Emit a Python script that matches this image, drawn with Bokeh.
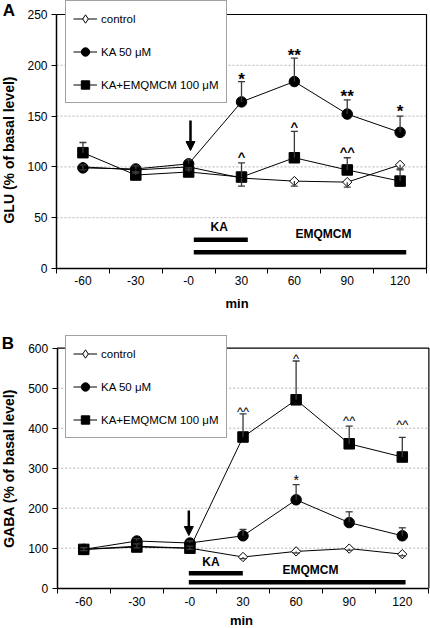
from bokeh.plotting import figure
from bokeh.models import (Range1d, FixedTicker, ColumnDataSource, Whisker, TeeHead,
                          Legend, LegendItem, Label, Arrow, NormalHead)
from bokeh.layouts import column
from bokeh.core.properties import value
from bokeh.embed import file_html
from bokeh.resources import INLINE

FONT = "Liberation Sans"

# ---------------- data ----------------
time_labels = ["-60", "-30", "-0", "30", "60", "90", "120"]
series_names = ["control", "KA 50 \u03bcM", "KA+EMQMCM 100 \u03bcM"]

glu_control = [100, 97, 100, 89, 86, 85, 102]
glu_control_err = [3, 3, 3, 8, 5, 5, 4]
glu_ka = [99, 98, 103, 164, 184, 152, 134]
glu_ka_err = [3, 3, 4, 20, 23, 14, 16]
glu_kae = [114, 92, 95, 90, 109, 97, 86]
glu_kae_err = [10, 3, 4, 14, 26, 12, 11]
glu_ka_sig = ["", "", "", "*", "**", "**", "*"]
glu_kae_sig = ["", "", "", "^", "^", "^^", ""]

gaba_control = [97, 105, 100, 78, 92, 99, 85]
gaba_control_err = [3, 4, 3, 4, 4, 4, 4]
gaba_ka = [97, 118, 113, 131, 221, 164, 131]
gaba_ka_err = [4, 6, 5, 16, 38, 27, 20]
gaba_kae = [97, 103, 100, 378, 471, 361, 328]
gaba_kae_err = [5, 8, 5, 58, 97, 44, 49]
gaba_ka_sig = ["", "", "", "", "*", "", ""]
gaba_kae_sig = ["", "", "", "^^", "^", "^^", "^^"]

# ---------------- style (pixel lifts of significance marks) ----------------
glu_ka_lift = [0, 0, 0, 5.7, 6.6, 7.4, 8.4]
glu_kae_lift = [0, 0, 0, 8.2, 6.7, 9.0, 0]
gaba_ka_lift = [0, 0, 0, 0, 7.8, 0, 0]
gaba_kae_lift = [0, 0, 0, 4.3, 4.4, 7.7, 15.0]


def make_panel(cfg):
    xs = list(range(len(time_labels)))
    x_lo, x_hi = -0.5, len(xs) - 0.5
    ymax = cfg["ymax"]
    p = figure(width=430, height=cfg["height"], title=None,
               x_range=Range1d(*cfg["xview"]), y_range=Range1d(*cfg["yview"]),
               output_backend="svg", toolbar_location=None,
               min_border_left=0, min_border_right=0, min_border_top=0, min_border_bottom=0)
    p.background_fill_color = "white"
    p.border_fill_color = "white"
    p.outline_line_color = None

    # x axis: labels at category centres, ticks between categories
    xa = p.xaxis[0]
    xa.fixed_location = 0
    xa.bounds = (x_lo, x_hi)
    xa.ticker = FixedTicker(ticks=xs, minor_ticks=[i - 0.5 for i in range(len(xs) + 1)])
    xa.major_label_overrides = {i: lab for i, lab in enumerate(time_labels)}
    xa.major_tick_out = 0
    xa.major_tick_in = 0
    xa.minor_tick_out = 5
    xa.minor_tick_in = 0
    xa.minor_tick_line_color = "black"
    xa.axis_line_width = 1.5
    xa.axis_line_color = "black"
    xa.major_label_text_font = FONT
    xa.major_label_text_font_size = "12px"
    xa.major_label_text_color = "black"
    xa.major_label_standoff = cfg["xstand"]

    ya = p.yaxis[0]
    ya.fixed_location = x_lo
    ya.bounds = (0, ymax)
    ya.ticker = FixedTicker(ticks=cfg["yticks"])
    ya.major_tick_out = 5
    ya.major_tick_in = 0
    ya.minor_tick_line_color = None
    ya.axis_line_width = 1.5
    ya.axis_line_color = "black"
    ya.major_tick_line_color = "black"
    ya.major_label_text_font = FONT
    ya.major_label_text_font_size = "12px"
    ya.major_label_text_color = "black"
    ya.major_label_standoff = 4

    p.xgrid.visible = False
    p.ygrid.visible = False

    # dotted grid lines at the inner y ticks, and the top / right frame border
    gy = cfg["yticks"][1:-1]
    p.segment(x0=[x_lo] * len(gy), x1=[x_hi] * len(gy), y0=gy, y1=gy,
              line_color="#b5b5b5", line_dash="2 2", line_width=1)
    p.line([x_lo, x_hi, x_hi], [ymax, ymax, 0], line_color="black", line_width=1.2)

    # treatment bars
    p.segment(x0=[cfg["bar_x0"], cfg["bar_x0"]], y0=[cfg["ka_bar_y"], cfg["emq_bar_y"]],
              x1=[cfg["ka_bar_x1"], cfg["emq_bar_x1"]], y1=[cfg["ka_bar_y"], cfg["emq_bar_y"]],
              line_color="black", line_width=4.5)
    p.text(x=[cfg["ka_lab_x"], cfg["emq_lab_x"]], y=[cfg["ka_lab_y"], cfg["emq_lab_y"]],
           text=["KA", "EMQMCM"], text_font=value(FONT), text_font_size="12px",
           text_font_style="bold", text_align="center", text_baseline="middle",
           text_color="black")

    # error bars
    ctrl, ctrl_e = cfg["control"], cfg["control_err"]
    ka, ka_e = cfg["ka"], cfg["ka_err"]
    kae, kae_e = cfg["kae"], cfg["kae_err"]
    ebc = "#3a3a3a"
    src_c = ColumnDataSource(dict(x=xs, lo=[m - e for m, e in zip(ctrl, ctrl_e)], up=ctrl))
    p.add_layout(Whisker(source=src_c, base="x", lower="lo", upper="up", dimension="height",
                         line_color=ebc, line_width=1.3, upper_head=None,
                         lower_head=TeeHead(size=7, line_color=ebc, line_width=1.3),
                         level="glyph"))
    for m_, e_ in ((ka, ka_e), (kae, kae_e)):
        src = ColumnDataSource(dict(x=xs, lo=m_, up=[m + e for m, e in zip(m_, e_)]))
        p.add_layout(Whisker(source=src, base="x", lower="lo", upper="up", dimension="height",
                             line_color=ebc, line_width=1.3, lower_head=None,
                             upper_head=TeeHead(size=7, line_color=ebc, line_width=1.3),
                             level="glyph"))

    # lines and markers (control at the bottom, KA+EMQMCM on top)
    l_c = p.line(xs, ctrl, line_color="black", line_width=1)
    l_k = p.line(xs, ka, line_color="black", line_width=1)
    l_e = p.line(xs, kae, line_color="black", line_width=1)
    p.scatter(xs, ctrl, marker="square", angle=0.785398, size=6.6,
              fill_color="white", line_color="black", line_width=1)
    s_k = p.scatter(xs, ka, marker="circle", size=10.5, fill_color="black", line_color="black")
    s_e = p.scatter(xs, kae, marker="square", size=10.5, fill_color="black", line_color="black")
    # legend-only diamond (placed far outside the visible range)
    d_leg = p.scatter([-100], [-1000], marker="diamond", fill_color="white",
                      line_color="black", line_width=1)

    # significance marks
    def sig(marks, means, errs, lifts, size, bold, c):
        idx = [i for i, t in enumerate(marks) if t]
        if not idx:
            return
        src = ColumnDataSource(dict(
            x=[xs[i] for i in idx],
            y=[means[i] + errs[i] for i in idx],
            t=[marks[i] for i in idx],
            off=[-(lifts[i] - c) for i in idx]))
        p.text(x="x", y="y", text="t", y_offset="off", source=src,
               text_font=value(FONT), text_font_size=size,
               text_font_style="bold" if bold else "normal",
               text_align="center", text_baseline="middle", text_color="black")

    sig(cfg["ka_sig"], ka, ka_e, cfg["ka_lift"], cfg["star_size"], cfg["bold"], cfg["star_c"])
    sig(cfg["kae_sig"], kae, kae_e, cfg["kae_lift"], cfg["caret_size"], cfg["bold"], cfg["caret_c"])

    # arrow
    p.add_layout(Arrow(end=NormalHead(size=9, fill_color="black", line_color="black", line_width=1),
                       x_start=cfg["arrow_x"], y_start=cfg["arrow_y0"],
                       x_end=cfg["arrow_x"], y_end=cfg["arrow_y1"],
                       line_color="black", line_width=2.5))

    # legend
    legend = Legend(items=[LegendItem(label=series_names[0], renderers=[l_c, d_leg]),
                           LegendItem(label=series_names[1], renderers=[l_k, s_k]),
                           LegendItem(label=series_names[2], renderers=[l_e, s_e])],
                    location=cfg["leg_loc"], orientation="vertical",
                    glyph_width=24, glyph_height=21, label_height=21, label_width=10,
                    spacing=12, padding=7, margin=0, label_standoff=4,
                    label_text_font=FONT, label_text_font_size="11.5px", label_text_color="black",
                    border_line_color="#444444", border_line_width=1,
                    background_fill_color="white", background_fill_alpha=1)
    p.add_layout(legend)

    # panel letter, y label and x label
    p.add_layout(Label(x=cfg["letter_x"], y=cfg["letter_y"], text=cfg["letter"],
                       text_font=FONT, text_font_size="17px", text_font_style="bold",
                       text_align="center", text_baseline="middle", text_color="black"))
    p.add_layout(Label(x=cfg["ylab_x"], y=cfg["ylab_y"], text=cfg["ylabel"], angle=1.5707963,
                       text_font=FONT, text_font_size="14px", text_font_style="bold",
                       text_align="center", text_baseline="middle", text_color="black"))
    p.add_layout(Label(x=cfg["xlab_x"], y=cfg["xlab_y"], text="min",
                       text_font=FONT, text_font_size="13px", text_font_style="bold",
                       text_align="center", text_baseline="middle", text_color="black"))
    return p


cfg_a = dict(height=312, ymax=250, yticks=[0, 50, 100, 150, 200, 250],
             xview=(-1.5594, 6.5753), yview=(-43.31, 263.78), xstand=3,
             control=glu_control, control_err=glu_control_err,
             ka=glu_ka, ka_err=glu_ka_err, kae=glu_kae, kae_err=glu_kae_err,
             ka_sig=glu_ka_sig, kae_sig=glu_kae_sig, ka_lift=glu_ka_lift, kae_lift=glu_kae_lift,
             star_size="17px", caret_size="13px", bold=True, star_c=3.6, caret_c=2.3,
             bar_x0=2.097, ka_bar_x1=3.119, emq_bar_x1=6.116, ka_bar_y=28.2, emq_bar_y=16.0,
             ka_lab_x=2.578, ka_lab_y=41.3, emq_lab_x=4.551, emq_lab_y=33.5,
             arrow_x=2.035, arrow_y0=145.7, arrow_y1=116.1,
             leg_loc=(65, 209),
             letter="A", letter_x=-1.402, letter_y=253.9,
             ylabel="GLU (% of basal level)", ylab_x=-1.408, ylab_y=116.6,
             xlab_x=2.915, xlab_y=-34.4)

cfg_b = dict(height=316, ymax=600, yticks=[0, 100, 200, 300, 400, 500, 600],
             xview=(-1.568, 6.531), yview=(-100.75, 689.25), xstand=4,
             control=gaba_control, control_err=gaba_control_err,
             ka=gaba_ka, ka_err=gaba_ka_err, kae=gaba_kae, kae_err=gaba_kae_err,
             ka_sig=gaba_ka_sig, kae_sig=gaba_kae_sig, ka_lift=gaba_ka_lift, kae_lift=gaba_kae_lift,
             star_size="14px", caret_size="13px", bold=False, star_c=3.0, caret_c=2.3,
             bar_x0=1.979, ka_bar_x1=2.996, emq_bar_x1=6.061, ka_bar_y=37.5, emq_bar_y=15.0,
             ka_lab_x=2.397, ka_lab_y=66.75, emq_lab_x=4.271, emq_lab_y=46.0,
             arrow_x=1.979, arrow_y0=194.25, arrow_y1=131.75,
             leg_loc=(65, 190),
             letter="B", letter_x=-1.427, letter_y=613.0,
             ylabel="GABA (% of basal level)", ylab_x=-1.412, ylab_y=299.25,
             xlab_x=2.971, xlab_y=-81.5)

p1 = make_panel(cfg_a)
p2 = make_panel(cfg_b)
layout = column(p1, p2, spacing=0)

open("out.html", "w").write(file_html(layout, INLINE))
